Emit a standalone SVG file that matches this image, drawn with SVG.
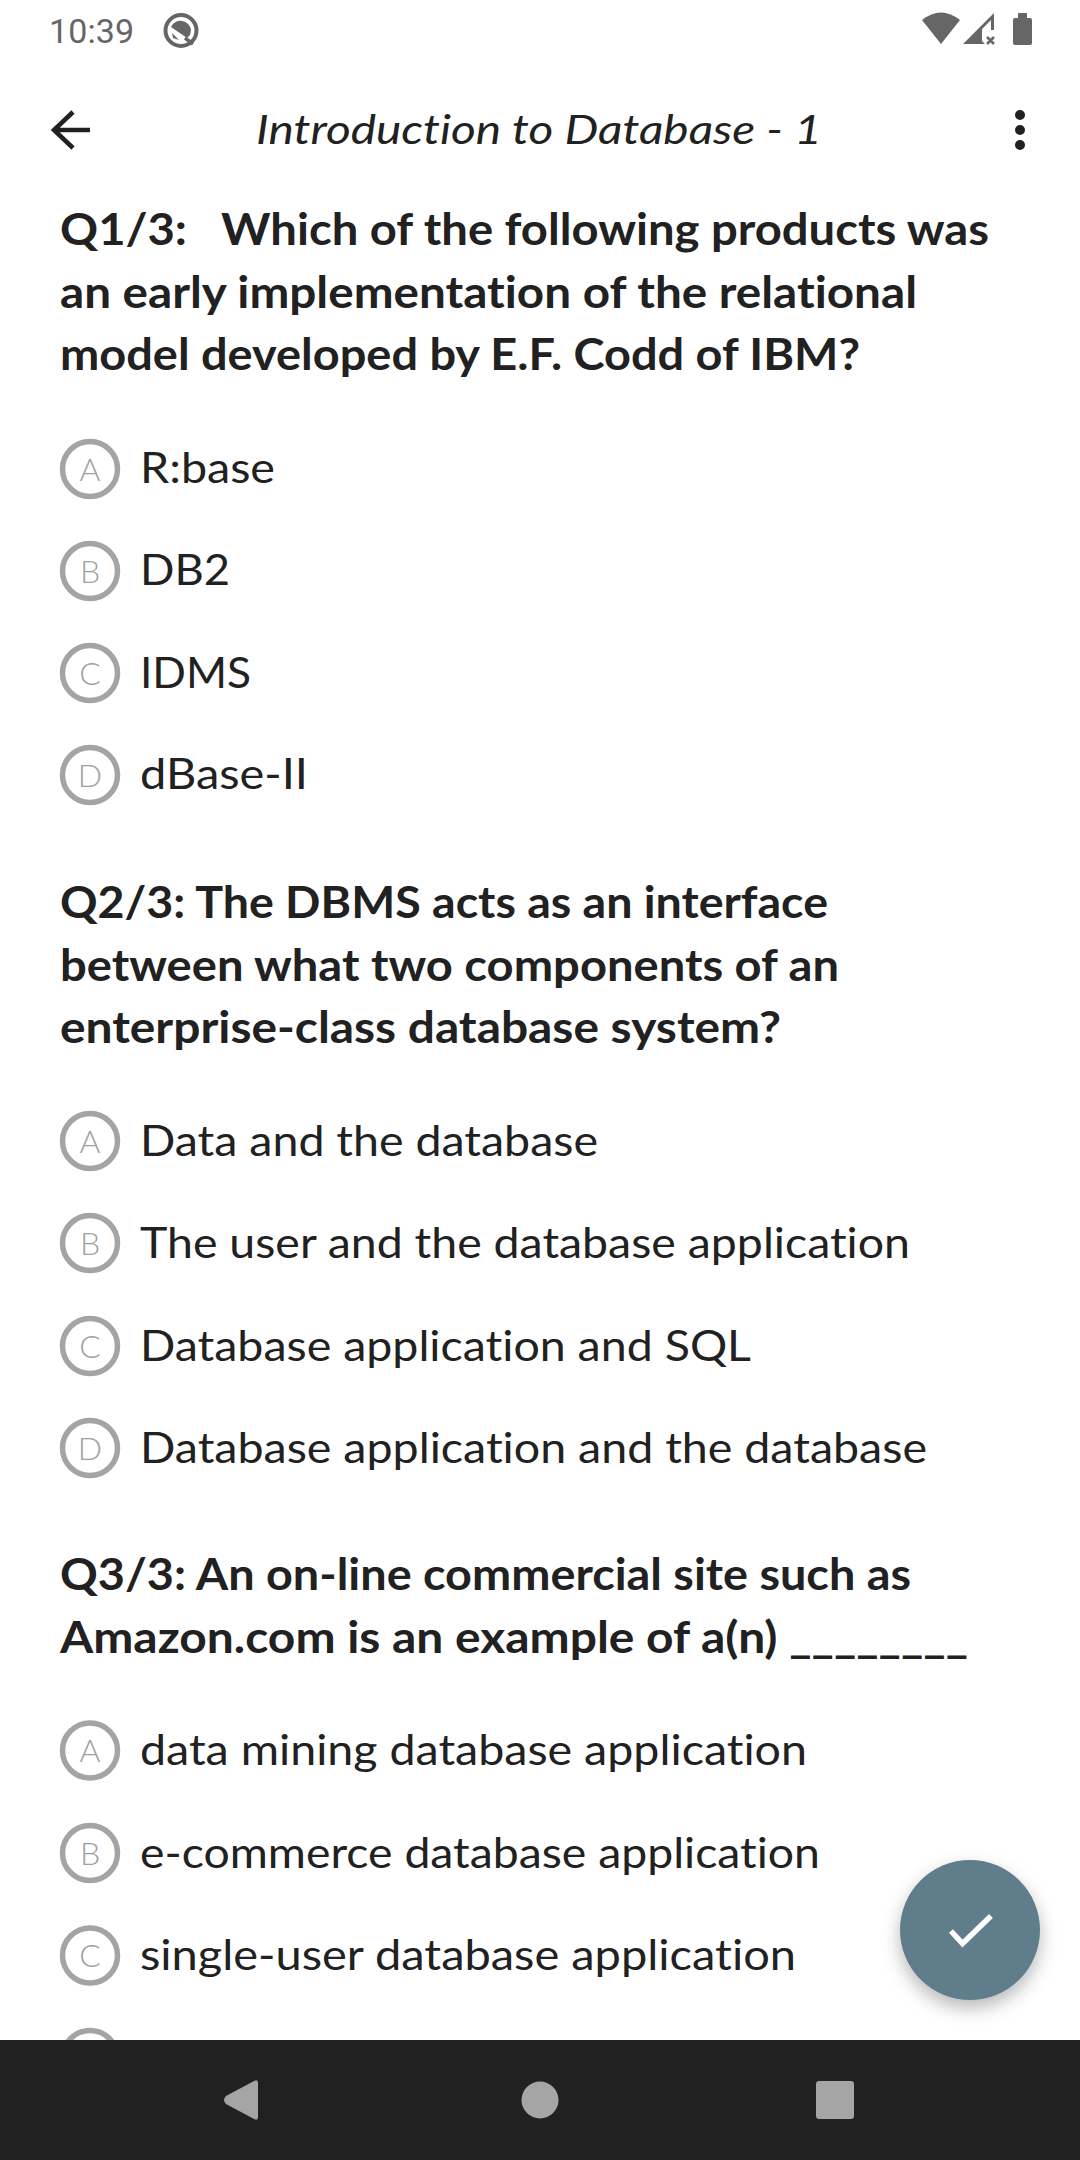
<svg xmlns="http://www.w3.org/2000/svg" width="1080" height="2160" viewBox="0 0 1080 2160">
<style>
text{font-variant-ligatures:none!important}
.q{font:700 44px Lato,"Noto Sans",sans-serif;fill:#212121}
.o{font:400 42px Lato,"Noto Sans",sans-serif;fill:#212121}
.t{font:italic 400 41px Lato,"Noto Sans",sans-serif;fill:#212121}
.c{fill:none;stroke:#a4a4a4;stroke-width:5.500}
.l{font:300 32px Lato,"Noto Sans",sans-serif;fill:#a0a0a0;text-anchor:middle}
.s{fill:#666}
.n{fill:#a5a5a5}
</style>
<defs><filter id="sh" x="-30%" y="-30%" width="160%" height="170%"><feDropShadow dx="0" dy="8" stdDeviation="9" flood-color="#000" flood-opacity=".28"/></filter></defs>
<rect width="1080" height="2160" fill="#fff"/>
<g id="status">
<text x="49" y="43" font-family="Roboto" font-size="34" fill="#666" textLength="85">10:39</text>
<circle cx="181" cy="30.500" r="15.500" fill="none" stroke="#666" stroke-width="4"/>
<path class="s" d="M171 27A10.500 10.500 0 0 1 191 30L190 35L187 38z"/><path class="s" d="M172 33L179 40L173 38z"/><path d="M185 38L193 44" stroke="#666" stroke-width="3.500" fill="none"/>
<path class="s" d="M922 20Q941 5 960 20L941 44z"/>
<path class="s" d="M963 44L994 13V30H991V20L982 29V41L985 44z"/><path d="M987 37l7 7m0-7l-7 7" stroke="#666" stroke-width="2.500" fill="none"/>
<path class="s" d="M1018 18V14q0-1 1-1h7q1 0 1 1v4h3q2 0 2 2v23q0 2-2 2h-15q-2 0-2-2V20q0-2 2-2z"/>
</g>
<g id="toolbar">
<path d="M90 130H55M73 112L54 130L73 148" fill="none" stroke="#212121" stroke-width="4.500"/>
<text class="t" x="256" y="143.500" textLength="566" lengthAdjust="spacingAndGlyphs">Introduction to Database - 1</text>
<circle cx="1020" cy="115" r="5" fill="#212121"/><circle cx="1020" cy="130" r="5" fill="#212121"/><circle cx="1020" cy="145" r="5" fill="#212121"/>
</g>
<g id="q1">
<text class="q" x="60" y="244.500" textLength="929" lengthAdjust="spacingAndGlyphs">Q1/3:&#160;&#160;&#160;Which of the following products was</text>
<text class="q" x="60" y="307.500" textLength="857" lengthAdjust="spacingAndGlyphs">an early implementation of the relational</text>
<text class="q" x="60" y="369.500" textLength="800" lengthAdjust="spacingAndGlyphs">model developed by E.F. Codd of IBM?</text>
</g>
<g id="q1a"><circle class="c" cx="90" cy="469" r="27.500"/><text class="l" x="90" y="480.500">A</text><text class="o" x="140" y="483" textLength="135" lengthAdjust="spacingAndGlyphs">R:base</text></g>
<g id="q1b"><circle class="c" cx="90" cy="571" r="27.500"/><text class="l" x="90" y="582.500">B</text><text class="o" x="140" y="585" textLength="90" lengthAdjust="spacingAndGlyphs">DB2</text></g>
<g id="q1c"><circle class="c" cx="90" cy="673" r="27.500"/><text class="l" x="90" y="684.500">C</text><text class="o" x="140" y="687.500" textLength="111" lengthAdjust="spacingAndGlyphs">IDMS</text></g>
<g id="q1d"><circle class="c" cx="90" cy="775" r="27.500"/><text class="l" x="90" y="786.500">D</text><text class="o" x="140" y="789" textLength="168" lengthAdjust="spacingAndGlyphs">dBase-II</text></g>
<g id="q2">
<text class="q" x="60" y="917.500" textLength="768" lengthAdjust="spacingAndGlyphs">Q2/3: The DBMS acts as an interface</text>
<text class="q" x="60" y="980.500" textLength="779" lengthAdjust="spacingAndGlyphs">between what two components of an</text>
<text class="q" x="60" y="1042.500" textLength="721" lengthAdjust="spacingAndGlyphs">enterprise-class database system?</text>
</g>
<g id="q2a"><circle class="c" cx="90" cy="1141" r="27.500"/><text class="l" x="90" y="1152.500">A</text><text class="o" x="140" y="1155.500" textLength="458" lengthAdjust="spacingAndGlyphs">Data and the database</text></g>
<g id="q2b"><circle class="c" cx="90" cy="1243" r="27.500"/><text class="l" x="90" y="1254.500">B</text><text class="o" x="140" y="1257.500" textLength="770" lengthAdjust="spacingAndGlyphs">The user and the database application</text></g>
<g id="q2c"><circle class="c" cx="90" cy="1346" r="27.500"/><text class="l" x="90" y="1357.500">C</text><text class="o" x="140" y="1360.500" textLength="611" lengthAdjust="spacingAndGlyphs">Database application and SQL</text></g>
<g id="q2d"><circle class="c" cx="90" cy="1448" r="27.500"/><text class="l" x="90" y="1459.500">D</text><text class="o" x="140" y="1462.500" textLength="787" lengthAdjust="spacingAndGlyphs">Database application and the database</text></g>
<g id="q3">
<text class="q" x="60" y="1590" textLength="851" lengthAdjust="spacingAndGlyphs">Q3/3: An on-line commercial site such as</text>
<text class="q" x="60" y="1653" textLength="908" lengthAdjust="spacingAndGlyphs">Amazon.com is an example of a(n) ________</text>
</g>
<g id="q3a"><circle class="c" cx="90" cy="1750.500" r="27.500"/><text class="l" x="90" y="1762">A</text><text class="o" x="140" y="1764.500" textLength="667" lengthAdjust="spacingAndGlyphs">data mining database application</text></g>
<g id="q3b"><circle class="c" cx="90" cy="1853" r="27.500"/><text class="l" x="90" y="1864.500">B</text><text class="o" x="140" y="1867.500" textLength="680" lengthAdjust="spacingAndGlyphs">e-commerce database application</text></g>
<g id="q3c"><circle class="c" cx="90" cy="1955.500" r="27.500"/><text class="l" x="90" y="1967">C</text><text class="o" x="140" y="1969.500" textLength="656" lengthAdjust="spacingAndGlyphs">single-user database application</text></g>
<g id="q3d"><circle class="c" cx="90" cy="2058" r="27.500"/></g>
<g id="fab"><circle cx="970" cy="1930" r="70" fill="#607d8b" filter="url(#sh)"/><path d="M951 1931L962.500 1943.500L991 1916" fill="none" stroke="#fff" stroke-width="5.500"/></g>
<g id="navbar">
<rect y="2040" width="1080" height="120" fill="#212121"/>
<path class="n" d="M226 2096L254 2081q4-2 4 2v34q0 4-4 2L226 2104q-4-4 0-8z"/>
<circle class="n" cx="540" cy="2100" r="18.500"/>
<rect class="n" x="816" y="2081" width="38" height="38" rx="3"/>
</g>
</svg>
